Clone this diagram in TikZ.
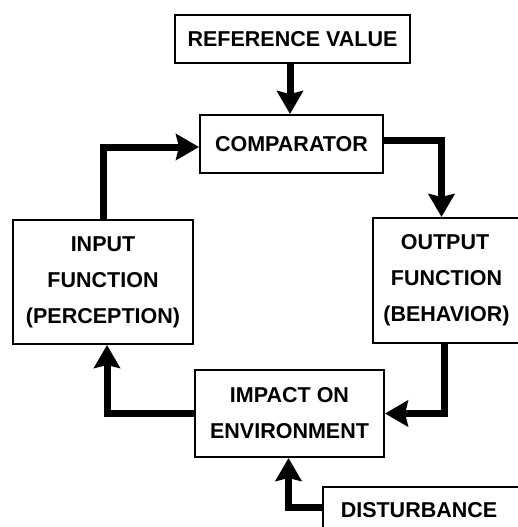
\documentclass[tikz,border=0pt]{standalone}
\usepackage{fontspec}
\setmainfont{Liberation Sans}
\usetikzlibrary{arrows.meta}
\begin{document}
\begin{tikzpicture}[x=1pt,y=-1pt,
  blk/.style={draw, line width=2pt, rectangle, inner sep=0pt, align=center,
    font=\bfseries\fontsize{21.5}{36}\selectfont},
  arr/.style={line width=7pt, line join=miter,
    -{Stealth[length=23pt,width=26pt,inset=3pt]}}]
  \useasboundingbox (0,0) rectangle (518,527);
  \clip (0,0) rectangle (518,527);
  \fill[white] (0,0) rectangle (518,527);

  % boxes
  \node[blk, minimum width=235pt, minimum height=48pt] (ref) at (292.5,39) {REFERENCE VALUE};
  \node[blk, minimum width=183pt, minimum height=58pt] (comp) at (291.5,144) {COMPARATOR};
  \node[blk, minimum width=180pt, minimum height=124pt] (inp) at (103,282) {INPUT\\FUNCTION\\(PERCEPTION)};
  \node[blk, minimum width=147pt, minimum height=125pt, text width=140pt] (out) at (446.5,280.5) {\hspace*{-3pt}OUTPUT\\FUNCTION\\(BEHAVIOR)};
  \node[blk, minimum width=189pt, minimum height=87pt] (imp) at (289.5,413.5) {IMPACT ON\\ENVIRONMENT};
  \node[blk, minimum width=202pt, minimum height=46pt, text width=190pt] (dist) at (424,510) {\hspace*{-10pt}DISTURBANCE};

  % loop connectors
  \draw[arr] (ref.south -| 290,0) -- (comp.north -| 290,0);
  \draw[arr] (inp.north) |- ([yshift=-3pt]comp.west);
  \draw[arr] ([yshift=4pt]comp.east) -| ([xshift=-5pt]out.north);
  \draw[arr] ([xshift=-2pt]out.south) |- (imp.east);
  \draw[arr] (imp.west) -| ([xshift=4pt]inp.south);
  \draw[arr] ([yshift=3pt]dist.west) -| ([xshift=-1pt]imp.south);
\end{tikzpicture}
\end{document}
